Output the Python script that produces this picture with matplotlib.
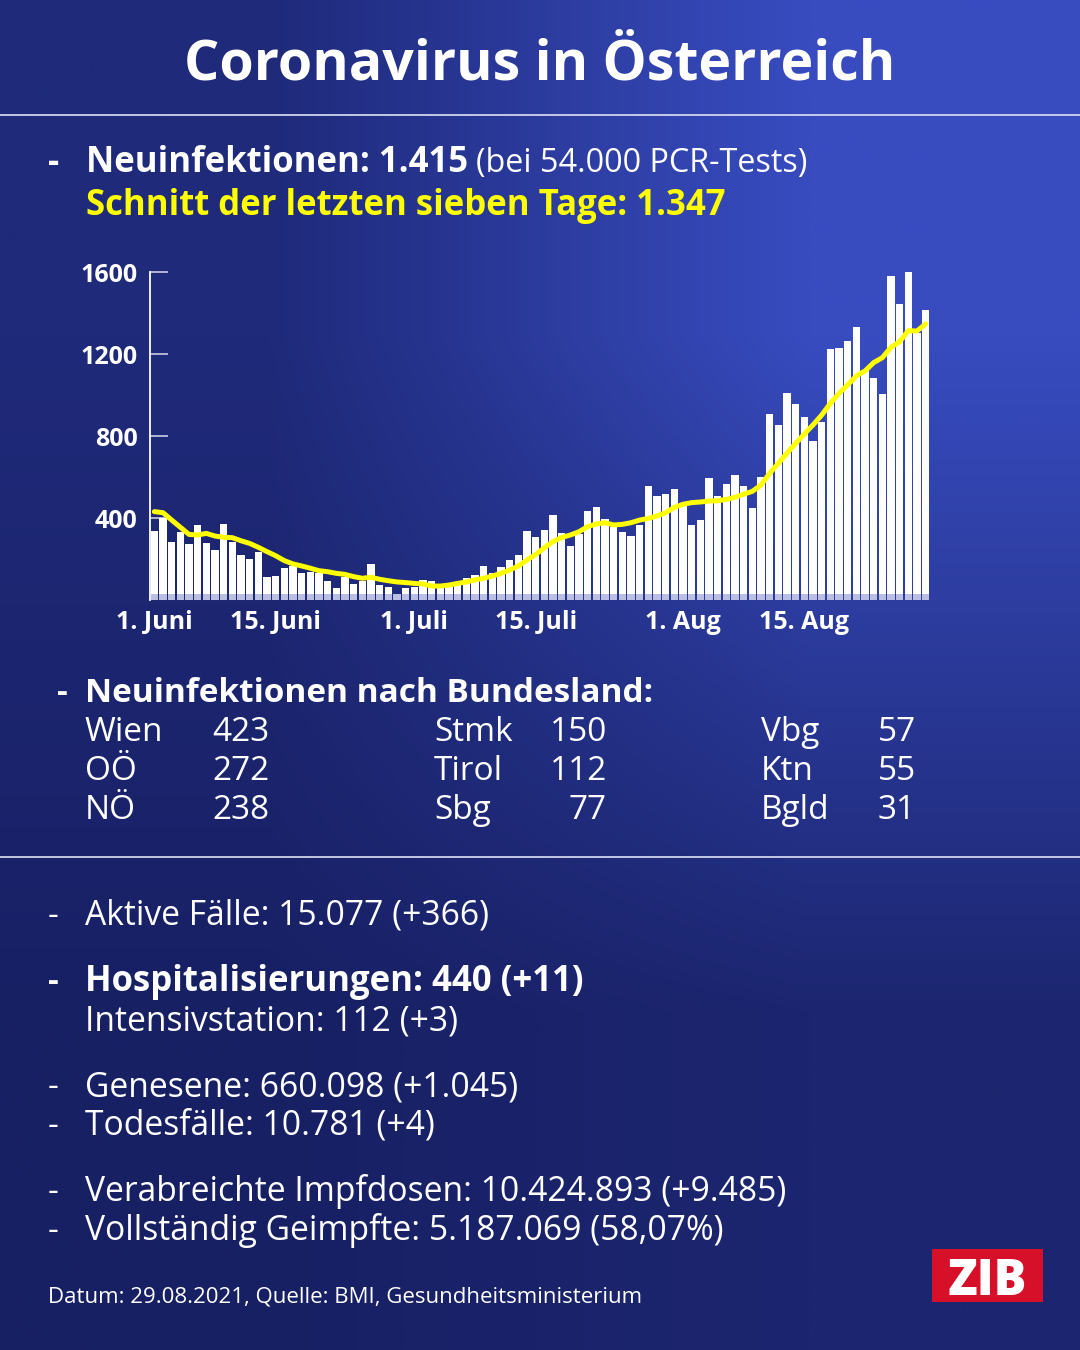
import numpy as np
import matplotlib
matplotlib.use("Agg")
import matplotlib.pyplot as plt
from matplotlib.lines import Line2D
from matplotlib.patches import Rectangle

plt.rcParams['font.family'] = ['Open Sans', 'DejaVu Sans']

W, H = 1080, 1350

# daily new infections, 1 June .. 29 Aug 2021
new_cases = [338, 398, 284, 333, 273, 364, 280, 244, 369, 284,
             218, 200, 236, 114, 117, 155, 166, 130, 138, 130,
             94, 59, 111, 78, 94, 176, 72, 65, 29, 60,
             65, 98, 94, 57, 65, 73, 106, 122, 166, 133,
             160, 194, 220, 335, 309, 341, 413, 325, 263, 322,
             433, 454, 394, 358, 333, 314, 366, 555, 507, 517,
             540, 463, 366, 392, 595, 507, 566, 610, 556, 450,
             602, 906, 854, 1008, 955, 894, 776, 870, 1224, 1229,
             1263, 1332, 1120, 1081, 1005, 1579, 1442, 1606, 1301, 1415]
# 7-day average line
avg7 = [431, 426, 390, 355, 320, 317, 325, 312, 306, 304,
        289, 276, 257, 236, 216, 192, 176, 166, 155, 143,
        138, 130, 125, 114, 106, 111, 101, 94, 88, 85,
        81, 78, 68, 68, 73, 81, 88, 98, 106, 117,
        130, 146, 166, 195, 222, 255, 285, 305, 317, 333,
        358, 371, 377, 366, 369, 377, 390, 398, 410, 426,
        452, 467, 475, 478, 483, 484, 491, 501, 516, 530,
        561, 618, 667, 716, 764, 810, 854, 902, 959, 1008,
        1049, 1093, 1117, 1158, 1182, 1233, 1260, 1314, 1312, 1347]
days = list(range(1, len(new_cases) + 1))

xtick_days = [1, 15, 31, 45, 62, 76]
xtick_labels = ["1. Juni", "15. Juni", "1. Juli", "15. Juli", "1. Aug", "15. Aug"]
yticks = [400, 800, 1200, 1600]

states_col1 = [("Wien", "423"), ("OÖ", "272"), ("NÖ", "238")]
states_col2 = [("Stmk", "150"), ("Tirol", "112"), ("Sbg", "77")]
states_col3 = [("Vbg", "57"), ("Ktn", "55"), ("Bgld", "31")]

fig = plt.figure(figsize=(W / 100, H / 100), dpi=100)

# background gradient (dark navy bottom-left -> brighter blue top-right)
bg = fig.add_axes([0, 0, 1, 1], zorder=-10)
corners = np.array([[[31, 42, 122], [56, 76, 192]],
                    [[24, 32, 100], [28, 38, 112]]]) / 255.0
bg.imshow(corners, extent=[0, 1, 0, 1], aspect='auto', interpolation='bilinear')
bg.axis('off')


def fy(y):
    return 1 - y / H


def put(x, y, s, size=24, weight='normal', color='white', ha='left'):
    return fig.text(x / W, fy(y), s, fontsize=size, fontweight=weight,
                    color=color, ha=ha, va='baseline')


renderer = fig.canvas.get_renderer()


def put_after(t, s, gap=8, **kw):
    bb = t.get_window_extent(renderer)
    return put(bb.x1 + gap, H - t.get_position()[1] * H, s, **kw)


# title + separators
put(540, 80, "Coronavirus in Österreich", size=40, weight='bold', ha='center')
for yy in (115, 857):
    fig.add_artist(Line2D([0, 1], [fy(yy)] * 2, color='#dfe2f4', lw=1.2,
                          transform=fig.transFigure))

# header lines
put(48, 172, "-", size=25, weight='bold')
t = put(86, 172, "Neuinfektionen: 1.415", size=25, weight='bold')
put_after(t, "(bei 54.000 PCR-Tests)", gap=8, size=23.3)
put(86, 215, "Schnitt der letzten sieben Tage: 1.347", size=25, weight='bold',
    color='#ffff00')

# chart
ax = fig.add_axes([150 / W, fy(600), 780 / W, 328 / H])
ax.set_facecolor('none')
ax.bar(days, new_cases, width=0.84, color='white', zorder=2)
ax.bar(days, [min(v, 30) for v in new_cases], width=0.84, color='#babee2', zorder=2)
ax.plot(days, avg7, color='#ffff00', lw=3.6, solid_capstyle='round', zorder=3)
ax.set_xlim(0.5, 90.5)
ax.set_ylim(0, 1600)
for s in ('top', 'right', 'bottom'):
    ax.spines[s].set_visible(False)
ax.spines['left'].set_color('white')
ax.spines['left'].set_linewidth(1.3)
ax.set_yticks(yticks)
ax.set_yticklabels([str(v) for v in yticks])
ax.tick_params(axis='y', direction='in', length=13, width=1.2, color='#c9cce6',
               pad=9, labelsize=18, labelcolor='white')
ax.set_xticks(xtick_days)
ax.set_xticklabels(xtick_labels)
ax.tick_params(axis='x', length=0, pad=7, labelsize=18, labelcolor='white')
for lab in ax.get_yticklabels() + ax.get_xticklabels():
    lab.set_fontweight('bold')

# Bundesland table
put(57, 702, "-", size=24, weight='bold')
put(85, 702, "Neuinfektionen nach Bundesland:", size=24, weight='bold')
row_y = [741, 780, 819]
for (n1, v1), (n2, v2), (n3, v3), yy in zip(states_col1, states_col2, states_col3, row_y):
    put(85, yy, n1, size=24)
    put(212, yy, v1, size=24)
    put(434, yy, n2, size=24)
    put(607, yy, v2, size=24, ha='right')
    put(761, yy, n3, size=24)
    put(916, yy, v3, size=24, ha='right')

# lower block
lines = [
    (925, "Aktive Fälle: 15.077 (+366)", 'normal', True),
    (991, "Hospitalisierungen: 440 (+11)", 'bold', True),
    (1030, "Intensivstation: 112 (+3)", 'normal', False),
    (1096, "Genesene: 660.098 (+1.045)", 'normal', True),
    (1135, "Todesfälle: 10.781 (+4)", 'normal', True),
    (1201, "Verabreichte Impfdosen: 10.424.893 (+9.485)", 'normal', True),
    (1240, "Vollständig Geimpfte: 5.187.069 (58,07%)", 'normal', True),
]
for yy, s, w, dash in lines:
    if dash:
        put(48, yy, "-", size=24, weight=w)
    put(85, yy, s, size=25 if w == 'bold' else 24.2, weight=w)

put(48, 1303, "Datum: 29.08.2021, Quelle: BMI, Gesundheitsministerium", size=16)

# ZIB logo
fig.add_artist(Rectangle((932 / W, fy(1302)), 111 / W, 53 / H, transform=fig.transFigure,
                         facecolor='#d7102a', edgecolor='none'))
fig.text(987.5 / W, fy(1276), "ZIB", fontsize=35, fontweight='heavy', color='white',
         ha='center', va='center_baseline')

fig.savefig("out.png", dpi=100)
